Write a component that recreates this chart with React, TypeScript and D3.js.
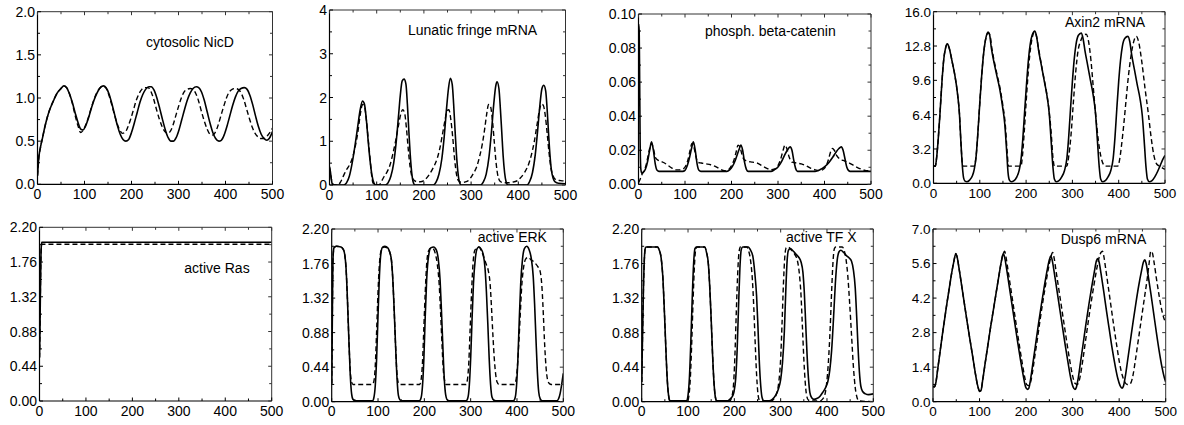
import React from "react";
import * as d3 from "d3";

type Pt = [number, number];

// ---------- shared axis data ----------
const xTicks = [0, 100, 200, 300, 400, 500];
const xTickLabels = ["0", "100", "200", "300", "400", "500"];

// ---------- panel titles ----------
const titles = [
  "cytosolic NicD",
  "Lunatic fringe mRNA",
  "phosph. beta-catenin",
  "Axin2 mRNA",
  "active Ras",
  "active ERK",
  "active TF X",
  "Dusp6 mRNA",
];

// ---------- y ticks ----------
const yTicksNicd = [0, 0.5, 1, 1.5, 2];
const yLabelsNicd = ["0.0", "0.5", "1.0", "1.5", "2.0"];
const yTicksLfng = [0, 1, 2, 3, 4];
const yLabelsLfng = ["0", "1", "2", "3", "4"];
const yTicksBcat = [0, 0.02, 0.04, 0.06, 0.08, 0.1];
const yLabelsBcat = ["0.00", "0.02", "0.04", "0.06", "0.08", "0.10"];
const yTicksAxin = [0, 3.2, 6.4, 9.6, 12.8, 16];
const yLabelsAxin = ["0.0", "3.2", "6.4", "9.6", "12.8", "16.0"];
const yTicks22 = [0, 0.44, 0.88, 1.32, 1.76, 2.2];
const yLabels22 = ["0.00", "0.44", "0.88", "1.32", "1.76", "2.20"];
const yTicksDusp = [0, 1.4, 2.8, 4.2, 5.6, 7];
const yLabelsDusp = ["0.0", "1.4", "2.8", "4.2", "5.6", "7.0"];

// ---------- series ----------
const nicdSolid: Pt[] = [[0,0.1],[3,0.32],[6,0.42],[10,0.52],[15,0.65],[20,0.76],[25,0.85],[30,0.92],[35,0.98],[40,1.04],[45,1.08],[50,1.11],[56,1.14],[62,1.12],[68,1.05],[74,0.95],[80,0.83],[86,0.72],[92,0.64],[97,0.63],[102,0.67],[108,0.76],[114,0.87],[120,0.97],[126,1.05],[132,1.11],[140,1.14],[146,1.12],[152,1.05],[158,0.94],[164,0.81],[170,0.68],[176,0.58],[182,0.52],[188,0.5],[194,0.52],[200,0.6],[206,0.71],[212,0.83],[218,0.95],[224,1.04],[230,1.1],[237,1.13],[242,1.13],[248,1.09],[254,1.0],[260,0.88],[266,0.75],[272,0.63],[278,0.54],[284,0.5],[289,0.5],[295,0.54],[301,0.63],[307,0.75],[313,0.87],[319,0.98],[325,1.06],[331,1.11],[338,1.13],[343,1.12],[349,1.07],[355,0.97],[361,0.84],[367,0.71],[373,0.6],[379,0.53],[386,0.5],[391,0.51],[397,0.57],[403,0.67],[409,0.79],[415,0.91],[421,1.01],[427,1.08],[433,1.11],[440,1.12],[446,1.1],[452,1.03],[458,0.92],[464,0.79],[470,0.67],[476,0.58],[482,0.53],[488,0.51],[493,0.53],[500,0.61]];
const nicdDashed: Pt[] = [[0,0.1],[3,0.32],[6,0.42],[10,0.52],[15,0.65],[20,0.76],[25,0.85],[30,0.92],[35,0.98],[40,1.04],[45,1.08],[50,1.11],[56,1.14],[62,1.12],[68,1.05],[74,0.94],[80,0.8],[86,0.68],[92,0.6],[96,0.62],[102,0.68],[108,0.77],[114,0.88],[120,0.98],[126,1.06],[132,1.11],[139,1.14],[145,1.12],[151,1.05],[157,0.94],[163,0.82],[169,0.71],[175,0.63],[181,0.59],[186,0.6],[192,0.66],[198,0.75],[204,0.86],[210,0.97],[216,1.05],[222,1.1],[229,1.12],[235,1.12],[241,1.08],[247,0.99],[253,0.87],[259,0.76],[265,0.67],[271,0.61],[277,0.59],[282,0.61],[288,0.68],[294,0.79],[300,0.9],[306,1.0],[312,1.07],[318,1.1],[325,1.11],[331,1.1],[337,1.05],[343,0.96],[349,0.84],[355,0.73],[361,0.64],[367,0.58],[372,0.57],[378,0.6],[384,0.68],[390,0.79],[396,0.9],[402,1.0],[408,1.07],[414,1.1],[421,1.11],[427,1.1],[433,1.06],[439,0.98],[445,0.87],[451,0.76],[457,0.66],[463,0.59],[469,0.55],[475,0.53],[481,0.53],[487,0.55],[493,0.59],[500,0.65]];

const lfngSolid: Pt[] = [[0,0.42],[2,0.3],[4,0.12],[6,0.02],[8,0],[30,0],[36,0.05],[42,0.2],[48,0.5],[54,0.9],[60,1.35],[65,1.72],[70,1.92],[74,1.85],[78,1.5],[82,1.0],[86,0.55],[90,0.22],[94,0.05],[98,0],[118,0],[124,0.05],[130,0.2],[136,0.5],[141,0.95],[146,1.55],[150,2.05],[154,2.38],[158,2.42],[162,2.3],[165,1.85],[168,1.25],[171,0.7],[174,0.3],[177,0.08],[181,0],[220,0],[226,0.07],[232,0.25],[238,0.6],[243,1.1],[248,1.75],[252,2.2],[256,2.44],[260,2.3],[263,1.85],[266,1.25],[269,0.7],[272,0.3],[275,0.08],[279,0],[320,0],[326,0.07],[332,0.25],[338,0.65],[343,1.2],[348,1.85],[352,2.25],[355,2.36],[359,2.2],[362,1.75],[365,1.2],[368,0.65],[371,0.28],[374,0.08],[378,0],[418,0],[424,0.08],[430,0.28],[436,0.7],[441,1.25],[446,1.85],[450,2.2],[454,2.28],[458,2.15],[461,1.75],[464,1.2],[467,0.7],[470,0.35],[474,0.15],[478,0.07],[485,0.04],[500,0.03]];
const lfngDashed: Pt[] = [[0,0.4],[3,0.2],[6,0.05],[10,0],[18,0],[24,0.08],[30,0.22],[36,0.35],[42,0.45],[48,0.6],[54,0.85],[60,1.2],[65,1.6],[70,1.84],[74,1.8],[78,1.5],[82,1.05],[86,0.6],[89,0.25],[92,0.05],[96,0],[105,0],[110,0.08],[116,0.2],[122,0.3],[128,0.45],[134,0.7],[140,1.0],[146,1.35],[151,1.62],[155,1.72],[159,1.65],[163,1.3],[167,0.8],[171,0.4],[175,0.18],[180,0.1],[188,0.07],[196,0.08],[204,0.14],[212,0.25],[220,0.4],[228,0.6],[234,0.85],[240,1.2],[245,1.5],[249,1.7],[253,1.72],[257,1.5],[261,1.1],[265,0.6],[269,0.25],[273,0.1],[280,0.06],[288,0.07],[296,0.12],[304,0.25],[312,0.42],[318,0.65],[324,0.95],[329,1.3],[333,1.62],[337,1.84],[341,1.8],[345,1.5],[349,1.0],[353,0.5],[357,0.2],[362,0.08],[370,0.05],[380,0.05],[390,0.07],[398,0.1],[406,0.18],[414,0.3],[422,0.48],[428,0.7],[434,1.0],[440,1.4],[445,1.72],[449,1.85],[453,1.82],[457,1.6],[461,1.2],[465,0.75],[469,0.4],[474,0.2],[480,0.12],[490,0.1],[500,0.09]];

const bcatSolid: Pt[] = [[0,0.094],[1.5,0.09],[2.5,0.06],[3.5,0.025],[5,0.009],[7,0.0065],[10,0.007],[15,0.009],[20,0.014],[24,0.02],[28,0.025],[32,0.02],[36,0.012],[40,0.0082],[44,0.0076],[95,0.0076],[100,0.0082],[105,0.011],[110,0.016],[114,0.021],[118,0.025],[122,0.02],[126,0.012],[130,0.0082],[134,0.0076],[190,0.0076],[196,0.0085],[202,0.0105],[208,0.014],[213,0.018],[217,0.021],[220,0.023],[224,0.02],[228,0.013],[232,0.0088],[236,0.0076],[285,0.0076],[292,0.0085],[300,0.0102],[307,0.013],[314,0.017],[320,0.02],[326,0.022],[330,0.02],[334,0.014],[338,0.0092],[342,0.0076],[380,0.0076],[390,0.0085],[400,0.0102],[410,0.013],[418,0.016],[425,0.019],[431,0.021],[436,0.022],[440,0.02],[444,0.015],[448,0.01],[452,0.008],[455,0.0076],[500,0.0076]];
const bcatDashed: Pt[] = [[0,0.001],[2,0.002],[5,0.004],[8,0.006],[12,0.008],[16,0.011],[20,0.016],[24,0.021],[28,0.024],[32,0.021],[36,0.016],[40,0.0145],[48,0.0135],[56,0.0125],[64,0.011],[72,0.0095],[80,0.0085],[88,0.0085],[96,0.009],[102,0.011],[107,0.015],[111,0.02],[115,0.024],[119,0.022],[123,0.017],[127,0.013],[135,0.0125],[145,0.012],[155,0.0115],[165,0.0105],[175,0.009],[185,0.008],[193,0.0085],[199,0.0105],[205,0.014],[210,0.019],[214,0.023],[218,0.022],[222,0.018],[227,0.0145],[235,0.0135],[245,0.013],[255,0.0125],[265,0.011],[275,0.0095],[285,0.0085],[293,0.009],[300,0.011],[306,0.015],[311,0.02],[315,0.023],[319,0.021],[324,0.016],[330,0.013],[340,0.0125],[350,0.012],[360,0.011],[370,0.0095],[380,0.0085],[390,0.008],[398,0.009],[404,0.011],[409,0.015],[413,0.019],[417,0.021],[421,0.02],[426,0.017],[432,0.015],[440,0.014],[450,0.013],[460,0.0115],[470,0.01],[480,0.0088],[490,0.008],[500,0.008]];

const axinSolid: Pt[] = [[0,1.6],[4,1.6],[7,2.5],[10,4],[14,6.5],[18,9.3],[22,11.5],[26,12.6],[30,13.0],[34,12.6],[40,11.4],[46,10.1],[52,8.3],[56,6.5],[59,4],[62,1.8],[65,0.5],[68,0.2],[72,0.15],[78,0.3],[84,0.7],[88,1.3],[92,2.5],[96,4.8],[100,7.5],[104,10],[108,12],[112,13.3],[118,14.1],[121,13.9],[125,12.6],[131,11.2],[137,10],[143,8.8],[149,7.2],[154,5.5],[158,3],[161,1],[164,0.3],[168,0.15],[174,0.25],[180,0.6],[185,1.2],[189,2.2],[193,4.2],[197,6.8],[201,9.3],[205,11.5],[209,13],[213,13.8],[219,14.2],[223,13.6],[227,12.4],[233,11],[239,9.6],[245,8.2],[250,6.5],[254,4],[258,1.5],[261,0.4],[265,0.15],[271,0.25],[277,0.6],[283,1.2],[288,2.3],[292,4.3],[296,7],[300,9.5],[304,11.6],[308,13],[313,13.8],[319,14.0],[323,13.5],[327,12.4],[333,11],[339,9.6],[345,8.2],[350,6.5],[354,4],[358,1.5],[361,0.4],[365,0.15],[371,0.25],[377,0.6],[383,1.2],[388,2.3],[392,4.3],[396,7],[400,9.5],[404,11.5],[408,12.8],[413,13.5],[420,13.7],[424,13.2],[428,12],[434,10.6],[440,9.2],[446,7.9],[451,6.3],[455,4],[459,1.5],[462,0.4],[466,0.15],[472,0.25],[478,0.6],[484,1.1],[490,1.7],[495,2.2],[500,2.6]];
const axinDashed: Pt[] = [[0,1.6],[4,1.6],[7,2.5],[10,4],[14,6.5],[18,9.3],[22,11.5],[26,12.6],[30,13.0],[34,12.6],[40,11.4],[46,10.1],[52,8.3],[56,6.5],[59,4],[62,2],[64,1.6],[88,1.6],[92,2.5],[96,4.8],[100,7.5],[104,10],[108,12],[112,13.3],[118,14.0],[122,13.8],[126,12.6],[132,11.2],[138,10],[144,8.8],[150,7.2],[155,5.5],[159,3],[162,1.6],[189,1.6],[192,2.5],[196,4.8],[200,7.5],[204,10],[208,12],[212,13.3],[218,14.1],[222,13.8],[226,12.8],[232,11.3],[238,9.9],[244,8.5],[249,7],[254,4.8],[258,2.4],[261,1.6],[288,1.6],[292,2.5],[297,4.5],[302,7.5],[307,10.3],[312,12.3],[318,13.3],[324,13.8],[330,13.9],[335,13.2],[340,11.5],[345,9.0],[350,6.5],[356,4.0],[362,2.4],[368,1.7],[372,1.6],[398,1.6],[402,2.2],[406,3.5],[411,5.5],[416,7.8],[421,10],[427,12],[433,13.3],[438,13.7],[443,13.2],[450,11.3],[457,8.8],[464,6.5],[470,4.3],[476,2.6],[482,1.8],[488,1.6],[500,1.3]];

const rasSolid: Pt[] = [[0,0.55],[1,0.9],[2,1.4],[3,1.8],[4,1.97],[5,2.01],[500,2.01]];
const rasDashed: Pt[] = [[0,0.55],[1,0.9],[2,1.4],[3,1.8],[4,1.95],[5,1.985],[500,1.985]];

const erkSolid: Pt[] = [[0,0.23],[1,0.8],[2,1.5],[3,1.85],[5,1.96],[10,1.98],[20,1.97],[25,1.94],[28,1.88],[31,1.7],[34,1.3],[37,0.8],[40,0.35],[43,0.1],[46,0.03],[52,0.01],[88,0.01],[91,0.05],[94,0.2],[97,0.55],[100,1.1],[103,1.6],[106,1.88],[110,1.97],[115,1.98],[121,1.96],[125,1.91],[129,1.8],[132,1.55],[135,1.15],[138,0.7],[141,0.3],[144,0.08],[148,0.02],[155,0.01],[189,0.01],[193,0.05],[196,0.2],[199,0.55],[202,1.1],[205,1.55],[209,1.85],[214,1.96],[220,1.97],[226,1.93],[230,1.82],[234,1.55],[237,1.15],[240,0.7],[243,0.3],[246,0.09],[250,0.02],[258,0.01],[290,0.01],[294,0.05],[297,0.2],[300,0.55],[303,1.05],[306,1.5],[310,1.82],[314,1.95],[318,1.97],[322,1.95],[327,1.88],[331,1.7],[334,1.4],[337,1.0],[340,0.55],[343,0.22],[346,0.06],[350,0.02],[358,0.01],[392,0.01],[396,0.05],[399,0.2],[402,0.55],[405,1.05],[408,1.5],[412,1.82],[416,1.95],[421,1.98],[426,1.94],[431,1.82],[435,1.6],[438,1.25],[441,0.8],[444,0.38],[447,0.12],[450,0.04],[455,0.01],[486,0.01],[490,0.04],[493,0.1],[496,0.2],[498,0.28],[500,0.36]];
const erkDashed: Pt[] = [[0,0.23],[1,0.8],[2,1.5],[3,1.85],[5,1.96],[10,1.98],[20,1.97],[25,1.94],[28,1.88],[31,1.7],[34,1.3],[37,0.8],[40,0.4],[43,0.25],[46,0.22],[88,0.22],[91,0.26],[94,0.45],[97,0.9],[100,1.4],[103,1.75],[107,1.93],[113,1.97],[120,1.96],[125,1.91],[129,1.8],[132,1.55],[135,1.15],[138,0.7],[141,0.35],[144,0.24],[147,0.22],[190,0.22],[193,0.28],[196,0.5],[199,0.95],[202,1.4],[205,1.75],[209,1.92],[214,1.96],[219,1.95],[224,1.88],[228,1.75],[232,1.5],[235,1.15],[238,0.75],[241,0.4],[244,0.26],[247,0.22],[290,0.22],[293,0.28],[296,0.5],[299,0.95],[302,1.4],[305,1.75],[309,1.93],[314,1.96],[318,1.97],[323,1.92],[328,1.85],[333,1.76],[338,1.67],[342,1.5],[345,1.2],[348,0.85],[351,0.55],[354,0.35],[357,0.25],[361,0.22],[394,0.22],[398,0.28],[401,0.45],[404,0.75],[407,1.1],[410,1.45],[414,1.7],[419,1.82],[424,1.84],[430,1.81],[435,1.79],[440,1.76],[445,1.72],[450,1.66],[454,1.45],[457,1.1],[460,0.7],[463,0.42],[466,0.28],[470,0.23],[474,0.22],[500,0.22]];

const tfxSolid: Pt[] = [[0,0.25],[2,0.9],[4,1.5],[6,1.85],[8,1.96],[10,1.97],[34,1.97],[38,1.93],[42,1.83],[46,1.55],[49,1.15],[52,0.7],[55,0.3],[58,0.08],[61,0.01],[97,0.01],[100,0.08],[103,0.3],[106,0.75],[109,1.3],[112,1.75],[115,1.95],[118,1.97],[136,1.97],[140,1.9],[144,1.75],[147,1.45],[150,1.05],[153,0.6],[156,0.25],[159,0.06],[162,0.01],[185,0.01],[190,0.03],[195,0.06],[199,0.12],[203,0.3],[206,0.65],[209,1.2],[212,1.7],[215,1.94],[218,1.97],[230,1.97],[235,1.93],[240,1.85],[244,1.65],[248,1.35],[251,0.95],[254,0.5],[257,0.2],[260,0.05],[264,0.01],[275,0.01],[282,0.03],[289,0.08],[295,0.16],[300,0.28],[304,0.5],[308,0.9],[311,1.4],[314,1.8],[317,1.93],[321,1.95],[327,1.92],[333,1.88],[339,1.84],[344,1.78],[348,1.65],[351,1.4],[354,1.0],[357,0.6],[360,0.3],[363,0.12],[367,0.05],[372,0.03],[378,0.04],[385,0.07],[391,0.12],[397,0.18],[402,0.26],[406,0.4],[410,0.65],[414,1.05],[418,1.5],[422,1.8],[426,1.91],[430,1.93],[436,1.9],[442,1.86],[448,1.83],[453,1.79],[457,1.68],[461,1.45],[464,1.1],[467,0.7],[470,0.38],[473,0.2],[477,0.13],[483,0.1],[490,0.09],[500,0.1]];
const tfxDashed: Pt[] = [[0,0.25],[2,0.9],[4,1.5],[6,1.85],[8,1.96],[10,1.97],[34,1.97],[38,1.93],[42,1.83],[46,1.55],[49,1.15],[52,0.7],[55,0.3],[58,0.08],[61,0.01],[99,0.01],[102,0.08],[105,0.3],[108,0.75],[111,1.3],[114,1.75],[117,1.95],[120,1.97],[136,1.97],[140,1.9],[144,1.75],[147,1.45],[150,1.05],[153,0.6],[156,0.25],[159,0.06],[162,0.01],[190,0.01],[194,0.05],[198,0.2],[201,0.55],[204,1.1],[207,1.6],[210,1.9],[213,1.97],[227,1.97],[231,1.92],[235,1.8],[239,1.55],[242,1.2],[245,0.75],[248,0.35],[251,0.1],[254,0.02],[260,0.01],[280,0.01],[286,0.04],[291,0.1],[296,0.25],[300,0.55],[303,1.0],[306,1.5],[309,1.85],[312,1.96],[316,1.97],[322,1.94],[330,1.88],[336,1.8],[340,1.65],[344,1.35],[347,0.95],[350,0.55],[353,0.25],[356,0.08],[360,0.02],[366,0.01],[385,0.01],[390,0.03],[395,0.08],[399,0.22],[403,0.5],[407,0.95],[410,1.4],[413,1.78],[416,1.95],[419,1.97],[433,1.97],[437,1.93],[441,1.82],[445,1.6],[449,1.25],[453,0.85],[457,0.45],[461,0.18],[465,0.05],[469,0.01],[500,0.0]];

const duspSolid: Pt[] = [[0,0.62],[3,0.6],[6,0.75],[10,1.3],[15,2.0],[20,2.7],[25,3.35],[30,4.0],[35,4.6],[40,5.2],[45,5.7],[49,6.0],[52,5.85],[56,5.4],[62,4.65],[68,3.9],[74,3.15],[80,2.45],[86,1.75],[91,1.15],[96,0.65],[100,0.42],[103,0.45],[107,0.9],[112,1.55],[118,2.3],[124,3.05],[130,3.75],[136,4.45],[142,5.15],[147,5.7],[151,6.0],[154,5.85],[158,5.4],[164,4.65],[170,3.9],[176,3.15],[182,2.4],[188,1.7],[194,1.05],[199,0.6],[203,0.5],[206,0.55],[210,0.95],[215,1.6],[221,2.4],[227,3.2],[233,3.95],[239,4.65],[245,5.3],[250,5.75],[253,5.9],[256,5.75],[260,5.3],[266,4.55],[272,3.8],[278,3.05],[284,2.3],[290,1.6],[296,0.95],[301,0.6],[305,0.5],[308,0.58],[312,0.95],[317,1.6],[323,2.4],[329,3.2],[335,3.95],[341,4.65],[347,5.3],[351,5.7],[354,5.8],[357,5.65],[361,5.2],[367,4.45],[373,3.65],[379,2.9],[385,2.15],[391,1.5],[397,0.95],[402,0.65],[406,0.55],[409,0.62],[413,1.0],[418,1.65],[424,2.45],[430,3.25],[436,4.0],[442,4.7],[448,5.3],[452,5.65],[455,5.75],[458,5.6],[462,5.15],[468,4.4],[474,3.6],[480,2.8],[486,2.05],[492,1.4],[497,0.98],[500,0.8]];
const duspDashed: Pt[] = [[0,0.62],[3,0.6],[6,0.75],[10,1.3],[15,2.0],[20,2.7],[25,3.35],[30,4.0],[35,4.6],[40,5.2],[45,5.7],[49,6.0],[52,5.85],[56,5.4],[62,4.65],[68,3.9],[74,3.15],[80,2.45],[86,1.75],[91,1.15],[96,0.65],[100,0.45],[103,0.48],[107,0.9],[112,1.55],[118,2.3],[124,3.05],[130,3.75],[136,4.45],[142,5.15],[147,5.7],[151,6.0],[154,6.1],[157,5.85],[161,5.35],[167,4.6],[173,3.85],[179,3.1],[185,2.35],[191,1.65],[197,1.0],[201,0.7],[206,0.65],[209,0.75],[213,1.1],[218,1.75],[224,2.5],[230,3.3],[236,4.05],[242,4.75],[248,5.4],[253,5.85],[257,6.05],[260,5.85],[264,5.35],[270,4.6],[276,3.85],[282,3.1],[288,2.35],[294,1.65],[300,1.05],[305,0.75],[310,0.7],[313,0.78],[317,1.1],[322,1.7],[328,2.5],[334,3.3],[340,4.05],[346,4.75],[352,5.4],[357,5.85],[361,6.05],[364,6.1],[367,5.9],[371,5.4],[377,4.6],[383,3.8],[389,3.0],[395,2.25],[401,1.55],[407,1.05],[412,0.8],[417,0.7],[422,0.7],[426,0.8],[430,1.1],[435,1.7],[440,2.35],[445,3.0],[450,3.65],[455,4.3],[460,4.95],[464,5.55],[468,6.1],[471,6.05],[475,5.65],[480,5.0],[485,4.4],[490,3.85],[495,3.45],[500,3.2]];

// ---------- layout (positions only) ----------
interface Panel {
  title: string;
  solid: Pt[];
  dashed: Pt[];
  yMax: number;
  yTicks: number[];
  yLabels: string[];
  box: [number, number, number, number]; // left, top, right, bottom
  titlePos: [number, number];
  tickFont: number;
}

const panels: Panel[] = [
  { title: titles[0], solid: nicdSolid, dashed: nicdDashed, yMax: 2, yTicks: yTicksNicd, yLabels: yLabelsNicd, box: [37.5, 11.7, 272.5, 184.3], titlePos: [146, 47], tickFont: 14 },
  { title: titles[1], solid: lfngSolid, dashed: lfngDashed, yMax: 4, yTicks: yTicksLfng, yLabels: yLabelsLfng, box: [329.5, 10, 565.5, 185], titlePos: [408, 35], tickFont: 14 },
  { title: titles[2], solid: bcatSolid, dashed: bcatDashed, yMax: 0.1, yTicks: yTicksBcat, yLabels: yLabelsBcat, box: [638.5, 14, 871, 184.3], titlePos: [705, 36], tickFont: 14 },
  { title: titles[3], solid: axinSolid, dashed: axinDashed, yMax: 16, yTicks: yTicksAxin, yLabels: yLabelsAxin, box: [933.5, 11.7, 1165, 183.3], titlePos: [1065, 26.5], tickFont: 13.5 },
  { title: titles[4], solid: rasSolid, dashed: rasDashed, yMax: 2.2, yTicks: yTicks22, yLabels: yLabels22, box: [39.5, 227.3, 271.7, 401], titlePos: [184.3, 273], tickFont: 14 },
  { title: titles[5], solid: erkSolid, dashed: erkDashed, yMax: 2.2, yTicks: yTicks22, yLabels: yLabels22, box: [331.7, 229, 563.3, 401.7], titlePos: [477.7, 242], tickFont: 14 },
  { title: titles[6], solid: tfxSolid, dashed: tfxDashed, yMax: 2.2, yTicks: yTicks22, yLabels: yLabels22, box: [641.7, 229, 873.3, 401.7], titlePos: [786, 242], tickFont: 14 },
  { title: titles[7], solid: duspSolid, dashed: duspDashed, yMax: 7, yTicks: yTicksDusp, yLabels: yLabelsDusp, box: [933, 229, 1165.7, 401.7], titlePos: [1060.7, 243.5], tickFont: 13.5 },
];

const FONT = "'Liberation Sans', Arial, Helvetica, sans-serif";

function PanelView({ p }: { p: Panel }) {
  const [l, t, r, b] = p.box;
  const x = d3.scaleLinear().domain([0, 500]).range([l, r]);
  const y = d3.scaleLinear().domain([0, p.yMax]).range([b, t]);
  const line = d3
    .line<Pt>()
    .x((d) => x(d[0]))
    .y((d) => y(d[1]))
    .curve(d3.curveMonotoneX);

  const xMinor = xTicks.slice(0, -1).map((v, i) => (v + xTicks[i + 1]) / 2);
  const yMinor = p.yTicks.slice(0, -1).map((v, i) => (v + p.yTicks[i + 1]) / 2);
  const major = 3.5;
  const minor = 2.5;
  const clipId = `clip-${Math.round(l)}-${Math.round(t)}`;

  return (
    <g>
      <defs>
        <clipPath id={clipId}>
          <rect x={l} y={t - 2} width={r - l} height={b - t + 2} />
        </clipPath>
      </defs>
      <g clipPath={`url(#${clipId})`}>
        <path d={line(p.dashed) || ""} fill="none" stroke="#000" strokeWidth={1.4} strokeDasharray="5,3" />
        <path d={line(p.solid) || ""} fill="none" stroke="#000" strokeWidth={1.6} />
      </g>
      {/* frame */}
      <line x1={l} x2={r} y1={t} y2={t} stroke="#333" strokeWidth={1} />
      <line x1={r} x2={r} y1={t} y2={b} stroke="#333" strokeWidth={1} />
      <line x1={l} x2={l} y1={t} y2={b} stroke="#000" strokeWidth={1.2} />
      <line x1={l} x2={r} y1={b} y2={b} stroke="#000" strokeWidth={1.2} />
      {/* x ticks */}
      {xTicks.map((v) => (
        <g key={`xt${v}`}>
          <line x1={x(v)} x2={x(v)} y1={b} y2={b - major} stroke="#000" />
          <line x1={x(v)} x2={x(v)} y1={t} y2={t + major} stroke="#333" />
        </g>
      ))}
      {xMinor.map((v) => (
        <g key={`xm${v}`}>
          <line x1={x(v)} x2={x(v)} y1={b} y2={b - minor} stroke="#000" />
          <line x1={x(v)} x2={x(v)} y1={t} y2={t + minor} stroke="#333" />
        </g>
      ))}
      {/* y ticks */}
      {p.yTicks.map((v) => (
        <g key={`yt${v}`}>
          <line x1={l} x2={l + major} y1={y(v)} y2={y(v)} stroke="#000" />
          <line x1={r} x2={r - major} y1={y(v)} y2={y(v)} stroke="#333" />
        </g>
      ))}
      {yMinor.map((v) => (
        <g key={`ym${v}`}>
          <line x1={l} x2={l + minor} y1={y(v)} y2={y(v)} stroke="#000" />
          <line x1={r} x2={r - minor} y1={y(v)} y2={y(v)} stroke="#333" />
        </g>
      ))}
      {/* labels */}
      {xTicks.map((v, i) => (
        <text key={`xl${v}`} x={x(v)} y={b + 14.5} textAnchor="middle" fontSize={p.tickFont} fontFamily={FONT} fill="#000">
          {xTickLabels[i]}
        </text>
      ))}
      {p.yTicks.map((v, i) => (
        <text key={`yl${v}`} x={l - 2.5} y={y(v) + p.tickFont * 0.36} textAnchor="end" fontSize={p.tickFont} fontFamily={FONT} fill="#000">
          {p.yLabels[i]}
        </text>
      ))}
      <text x={p.titlePos[0]} y={p.titlePos[1]} fontSize={14} fontFamily={FONT} fill="#000">
        {p.title}
      </text>
    </g>
  );
}

export default function App() {
  return (
    <svg
      width={1184}
      height={425}
      viewBox="0 0 1184 425"
      style={{ position: "absolute", left: 0, top: 0, background: "#fff" }}
    >
      <rect x={0} y={0} width={1184} height={425} fill="#fff" />
      {panels.map((p, i) => (
        <PanelView key={i} p={p} />
      ))}
    </svg>
  );
}
